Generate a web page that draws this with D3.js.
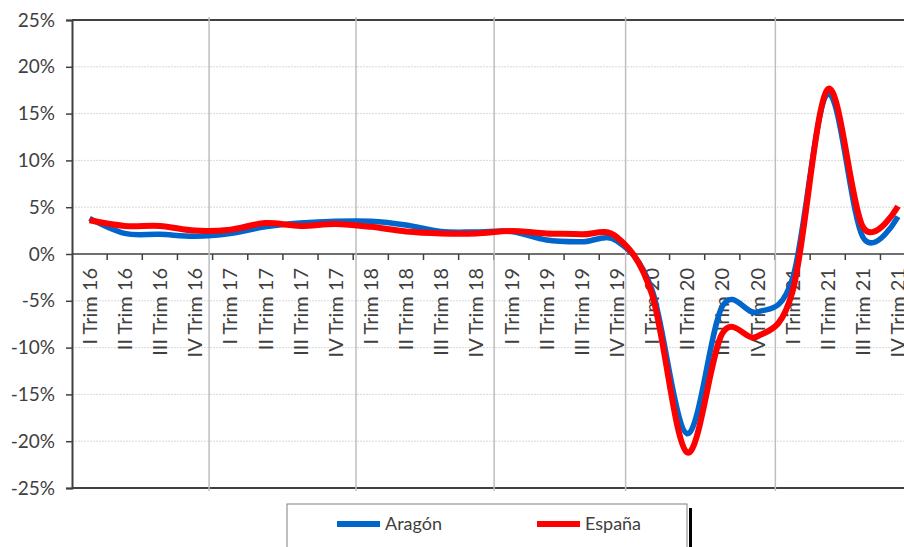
<!DOCTYPE html>
<html>
<head>
<meta charset="utf-8">
<script src="https://cdn.jsdelivr.net/npm/d3@7"></script>
<style>
  body { margin:0; background:#fff; }
  text { font-family: Lato, "Open Sans", sans-serif; fill:#404040; }
</style>
</head>
<body>
<div id="chart"></div>
<script>
// chart data
var trimestres = ["I Trim 16","II Trim 16","III Trim 16","IV Trim 16",
                  "I Trim 17","II Trim 17","III Trim 17","IV Trim 17",
                  "I Trim 18","II Trim 18","III Trim 18","IV Trim 18",
                  "I Trim 19","II Trim 19","III Trim 19","IV Trim 19",
                  "I Trim 20","II Trim 20","III Trim 20","IV Trim 20",
                  "I Trim 21","II Trim 21","III Trim 21","IV Trim 21"];
var aragon = [3.8, 2.2, 2.1, 1.9, 2.2, 2.9, 3.3, 3.5,
              3.5, 3.1, 2.4, 2.35, 2.4, 1.5, 1.3, 1.4,
              -3.8, -19.2, -5.6, -6.2, -2.6, 17.1, 1.8, 4.0];
var espana = [3.6, 3.0, 3.0, 2.5, 2.6, 3.3, 3.0, 3.2,
              2.9, 2.4, 2.2, 2.2, 2.45, 2.2, 2.1, 1.8,
              -4.3, -21.2, -8.5, -8.8, -4.0, 17.6, 2.9, 5.1];
var yTicks = [25, 20, 15, 10, 5, 0, -5, -10, -15, -20, -25];
// vertical marker lines, in category units from the left edge
var separadores = [3.9, 8.08, 12.01, 15.75, 20.01];
var leyenda = ["Aragón", "España"];
var colores = ["#0066cc", "#ff0000"];

var W = 904, H = 547;
var mLeft = 72, mTop = 20, mBottom = 488, step = 35.15;
var mRight = mLeft + step * trimestres.length;

var svg = d3.select("#chart").append("svg").attr("width", W).attr("height", H);

var x = d3.scaleBand().domain(trimestres).range([mLeft, mRight]).padding(0);
var xi = d3.scaleLinear().domain([0, trimestres.length]).range([mLeft, mRight]);
var y = d3.scaleLinear().domain([-25, 25]).range([mBottom, mTop]);

// gridlines
svg.append("g").selectAll("line")
    .data(yTicks.filter(function(d){ return d != 25 && d != -25 && d != 0; }))
    .enter().append("line")
      .attr("x1", mLeft).attr("x2", mRight)
      .attr("y1", function(d){ return y(d); })
      .attr("y2", function(d){ return y(d); })
      .attr("stroke", "#d9d9d9")
      .attr("stroke-dasharray", "2,1");

// frame
svg.append("line").attr("x1", mLeft).attr("x2", mRight).attr("y1", mTop).attr("y2", mTop)
   .attr("stroke", "#404040").attr("stroke-width", 2);
svg.append("line").attr("x1", mLeft).attr("x2", mRight).attr("y1", mBottom).attr("y2", mBottom)
   .attr("stroke", "#404040").attr("stroke-width", 2);

// y axis
var yAxis = d3.axisLeft(y).tickValues(yTicks).tickSize(6).tickPadding(11)
    .tickFormat(function(d){ return d + "%"; });
var gy = svg.append("g").attr("transform", "translate(" + mLeft + ",0)").call(yAxis);
gy.select(".domain").attr("stroke", "#404040").attr("stroke-width", 2);
gy.selectAll(".tick line").attr("stroke", "#404040").attr("stroke-width", 1.5);
gy.selectAll("text").attr("font-size", 19).style("font-family", "Lato").attr("fill", "#404040");

// zero axis with ticks between categories
svg.append("line").attr("x1", mLeft).attr("x2", mRight).attr("y1", y(0)).attr("y2", y(0))
   .attr("stroke", "#404040").attr("stroke-width", 1.5);
svg.append("g").selectAll("line")
    .data(trimestres.slice(1))
    .enter().append("line")
      .attr("x1", function(d){ return x(d); })
      .attr("x2", function(d){ return x(d); })
      .attr("y1", y(0)).attr("y2", y(0) + 6)
      .attr("stroke", "#404040").attr("stroke-width", 1.5);

// category labels
svg.append("g").selectAll("text")
    .data(trimestres)
    .enter().append("text")
      .attr("transform", function(d){
        return "translate(" + (x(d) + x.bandwidth() / 2) + "," + (y(0) + 14) + ") rotate(-90)";
      })
      .attr("dy", "0.36em")
      .attr("text-anchor", "end")
      .attr("font-size", 20)
      .text(function(d){ return d; });

// grey separators
svg.append("g").selectAll("line")
    .data(separadores)
    .enter().append("line")
      .attr("x1", function(d){ return xi(d); })
      .attr("x2", function(d){ return xi(d); })
      .attr("y1", mTop - 3).attr("y2", mBottom + 3)
      .attr("stroke", "#bfbfbf").attr("stroke-width", 1.5);

// series
var line = d3.line()
    .x(function(d, i){ return x(trimestres[i]) + x.bandwidth() / 2; })
    .y(function(d){ return y(d); })
    .curve(d3.curveCardinal.tension(0));

svg.append("path").datum(aragon).attr("d", line)
   .attr("fill", "none").attr("stroke", colores[0]).attr("stroke-width", 5.5);
svg.append("path").datum(espana).attr("d", line)
   .attr("fill", "none").attr("stroke", colores[1]).attr("stroke-width", 6);

// legend
var lg = svg.append("g");
lg.append("rect").attr("x", 689).attr("y", 508).attr("width", 3).attr("height", 60).attr("fill", "#000");
lg.append("rect").attr("x", 287).attr("y", 504).attr("width", 400).attr("height", 60)
  .attr("fill", "#fff").attr("stroke", "#7f7f7f").attr("stroke-width", 1);
var items = lg.selectAll("g.item")
    .data(leyenda)
    .enter().append("g")
      .attr("transform", function(d, i){ return "translate(" + (337 + i * 200) + ",524)"; });
items.append("line").attr("x1", 0).attr("x2", 43).attr("y1", 0).attr("y2", 0)
     .attr("stroke", function(d, i){ return colores[i]; }).attr("stroke-width", 6);
items.append("text").attr("x", 48).attr("y", 0).attr("dy", "0.36em")
     .attr("font-size", 18).text(function(d){ return d; });
</script>
</body>
</html>
